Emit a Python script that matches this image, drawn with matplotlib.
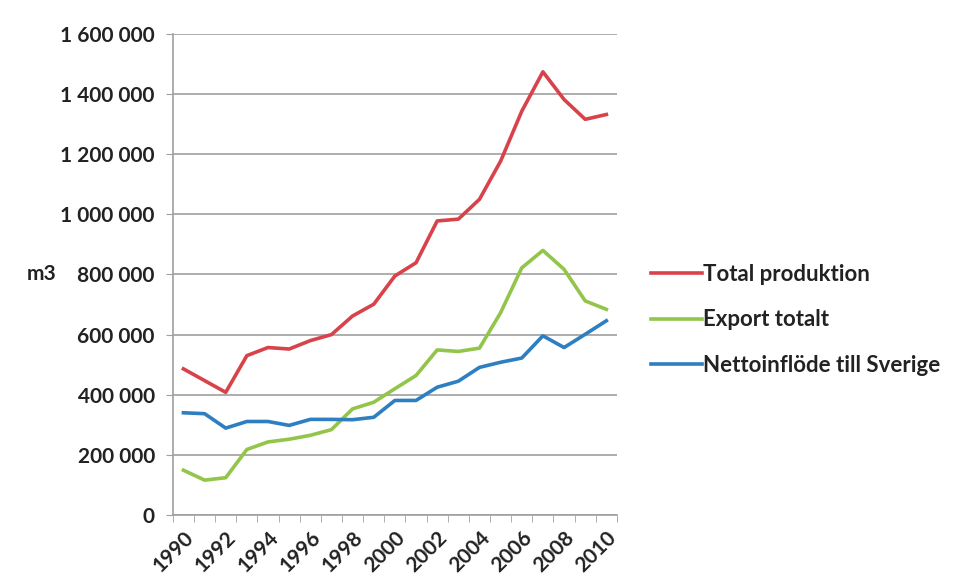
import numpy as np
import matplotlib
matplotlib.use("Agg")
import matplotlib.pyplot as plt
from matplotlib.ticker import FuncFormatter, FixedLocator

plt.rcParams['font.family'] = ['Lato', 'DejaVu Sans']
plt.rcParams['font.weight'] = 'bold'

# Data (m3 per year)
years = list(range(1990, 2011))
total_produktion = [486000, 447000, 408000, 530000, 557000, 552000, 580000, 600000,
                    662000, 701000, 795000, 839000, 978000, 984000, 1050000, 1177000,
                    1343000, 1474000, 1382000, 1316000, 1332000]
export_totalt = [149000, 116000, 124000, 218000, 243000, 252000, 265000, 284000,
                 353000, 375000, 420000, 464000, 549000, 544000, 555000, 673000,
                 822000, 880000, 817000, 712000, 684000]
nettoinflode = [340000, 337000, 289000, 311000, 311000, 298000, 318000, 318000,
                317000, 325000, 381000, 381000, 425000, 445000, 491000, 508000,
                522000, 596000, 557000, 601000, 646000]
series_names = ["Total produktion", "Export totalt", "Nettoinflöde till Sverige"]
colors = ["#d8434a", "#92c54a", "#2e7fc1"]
text_col = '#222222'

fig = plt.figure(figsize=(9.55, 5.81), dpi=100)
ax = fig.add_axes([0.181, 0.1136, 0.465, 0.828])

x = np.arange(len(years))
for vals, name, c in zip([total_produktion, export_totalt, nettoinflode], series_names, colors):
    ax.plot(x, vals, color=c, lw=2.6, label=name)

ax.set_xlim(-0.5, len(years) - 0.5)
ax.set_ylim(0, 1600000)
ax.yaxis.set_major_locator(FixedLocator(np.arange(0, 1600001, 200000)))
ax.yaxis.set_major_formatter(FuncFormatter(lambda v, p: f"{int(v):,}".replace(",", " ")))
ax.grid(axis='y', color='#a0a0a0', lw=1.2)
ax.set_axisbelow(True)

# category axis: ticks between categories, labels every other year
ax.set_xticks(x[::2])
ax.set_xticklabels([str(y) for y in years[::2]], rotation=45, ha='right',
                   rotation_mode='anchor', fontsize=15, fontweight='bold', color=text_col)
ax.tick_params(axis='x', which='major', length=0, pad=9)
ax.set_xticks(np.arange(-0.5, len(years)), minor=True)
ax.tick_params(axis='x', which='minor', length=5, color='#a0a0a0', direction='out')
ax.tick_params(axis='y', length=5, color='#a0a0a0', labelsize=15, labelcolor=text_col, pad=8)
for lab in ax.get_yticklabels():
    lab.set_fontweight('bold')

for s in ['top', 'right']:
    ax.spines[s].set_visible(False)
for s in ['left', 'bottom']:
    ax.spines[s].set_color('#a0a0a0')
    ax.spines[s].set_linewidth(1.2)

fig.text(0.028, 0.528, "m3", fontsize=15, fontweight='bold', va='center', color=text_col)

leg = fig.legend(loc='upper left', bbox_to_anchor=(0.661, 0.580), frameon=False,
                 fontsize=16, handlelength=2.3, handletextpad=0.05, labelspacing=1.1)
for t in leg.get_texts():
    t.set_fontweight('bold')
    t.set_color(text_col)

fig.savefig("out.png", dpi=100)
